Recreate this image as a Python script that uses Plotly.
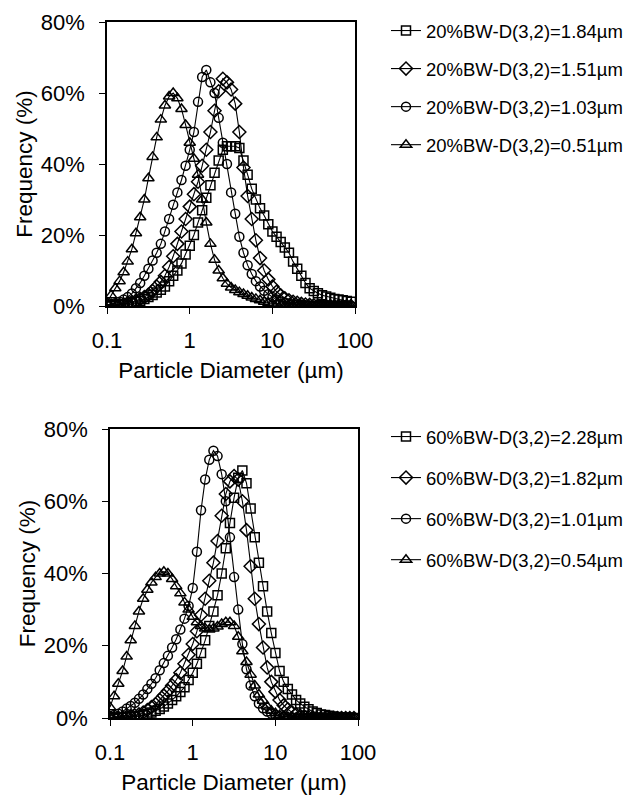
import plotly.graph_objects as go

# Particle size classes (um)
X = [0.1, 0.112, 0.126, 0.142, 0.159, 0.178, 0.2, 0.224, 0.252, 0.283,
     0.317, 0.356, 0.399, 0.448, 0.502, 0.564, 0.632, 0.71, 0.796, 0.893,
     1.002, 1.125, 1.262, 1.416, 1.589, 1.783, 2.0, 2.244, 2.518, 2.825,
     3.17, 3.557, 3.991, 4.477, 5.024, 5.637, 6.325, 7.096, 7.962, 8.934,
     10.024, 11.247, 12.619, 14.159, 15.887, 17.825, 20.0, 22.44, 25.179, 28.251,
     31.698, 35.566, 39.905, 44.774, 50.238, 56.368, 63.246, 70.963, 79.621, 89.337]

# ---- 20% BW ----
top_names = ["20%BW-D(3,2)=1.84µm", "20%BW-D(3,2)=1.51µm",
             "20%BW-D(3,2)=1.03µm", "20%BW-D(3,2)=0.51µm"]
top_sq = [0, 0.1, 0.2, 0.3, 0.5, 0.7, 0.9, 1.2, 1.5, 2.0,
          2.5, 3.1, 3.8, 4.6, 5.5, 7.0, 8.5, 10.0, 12.0, 14.5,
          17.0, 20.0, 23.5, 27.0, 30.5, 34.0, 37.5, 41.0, 44.0, 45.0,
          45.0, 45.0, 44.5, 41.0, 37.0, 33.0, 30.0, 27.5, 25.5, 23.0,
          21.0, 19.5, 18.0, 16.5, 15.0, 12.5, 10.5, 8.5, 6.5, 5.0,
          4.2, 3.6, 3.0, 2.7, 2.3, 2.0, 1.8, 1.6, 1.4, 1.2]
top_di = [0, 0.1, 0.2, 0.3, 0.5, 0.8, 1.1, 1.5, 2.0, 2.5,
          3.2, 4.2, 5.5, 6.8, 8.5, 11.0, 14.0, 17.5, 21.0, 24.5,
          28.0, 31.5, 35.0, 39.5, 44.0, 49.0, 55.0, 60.5, 64.0, 63.0,
          61.0, 57.0, 49.0, 39.0, 31.0, 24.5, 18.5, 13.5, 10.0, 7.5,
          5.5, 4.0, 3.0, 2.2, 1.6, 1.2, 0.9, 0.6, 0.4, 0.3,
          0.2, 0.1, 0.1, 0, 0, 0, 0, 0, 0, 0]
top_ci = [0.3, 0.5, 0.8, 1.2, 1.8, 2.5, 3.5, 5.0, 6.5, 8.5,
          10.5, 12.8, 15.0, 17.5, 21.0, 24.5, 28.5, 32.0, 35.5, 39.5,
          44.0, 49.0, 57.5, 64.5, 66.5, 63.0, 60.0, 53.0, 46.0, 40.0,
          32.0, 26.0, 19.5, 15.0, 11.5, 9.0, 7.0, 5.5, 4.3, 3.3,
          2.5, 1.8, 1.3, 1.0, 0.7, 0.5, 0.4, 0.3, 0.2, 0.1,
          0, 0, 0, 0, 0, 0, 0, 0, 0, 0]
top_tr = [1.0, 3.0, 5.0, 7.0, 9.5, 12.5, 16.0, 20.5, 25.0, 30.0,
          36.0, 42.0, 47.5, 52.5, 56.5, 59.0, 60.0, 58.5, 55.5, 51.0,
          46.0, 41.5, 37.0, 30.0, 23.5, 17.5, 13.0, 10.0, 7.8, 6.3,
          5.2, 4.5, 3.9, 3.4, 2.9, 2.4, 2.0, 1.6, 1.2, 0.9,
          0.7, 0.5, 0.3, 0.2, 0.1, 0, 0, 0, 0, 0,
          0, 0, 0, 0, 0, 0, 0, 0, 0, 0]

# ---- 60% BW ----
bot_names = ["60%BW-D(3,2)=2.28µm", "60%BW-D(3,2)=1.82µm",
             "60%BW-D(3,2)=1.01µm", "60%BW-D(3,2)=0.54µm"]
bot_sq = [0, 0, 0, 0.1, 0.2, 0.3, 0.4, 0.5, 0.8, 1.1,
          1.5, 2.0, 2.5, 3.2, 4.0, 5.0, 6.0, 7.2, 8.5, 10.5,
          12.5, 15.0, 18.0, 21.5, 25.5, 29.5, 34.0, 40.0, 47.0, 54.0,
          61.0, 66.5, 68.5, 65.0, 58.0, 50.0, 43.0, 36.5, 29.5, 23.5,
          18.0, 13.0, 10.0, 8.0, 6.5, 5.0, 4.0, 3.1, 2.4, 1.8,
          1.4, 1.0, 0.8, 0.6, 0.4, 0.3, 0.2, 0.1, 0.1, 0]
bot_di = [0, 0, 0.1, 0.2, 0.3, 0.5, 0.7, 1.0, 1.5, 2.2,
          3.0, 3.8, 5.0, 6.2, 7.5, 9.0, 10.5, 12.5, 15.0, 17.5,
          20.5, 24.0, 28.5, 33.0, 38.0, 43.0, 49.0, 56.0, 62.0, 65.5,
          67.0, 66.0, 60.0, 52.0, 42.0, 33.0, 26.0, 19.5, 14.0, 10.0,
          7.3, 5.0, 3.5, 2.4, 1.6, 1.0, 0.6, 0.4, 0.2, 0.1,
          0, 0, 0, 0, 0, 0, 0, 0, 0, 0]
bot_ci = [0.5, 0.8, 1.2, 1.8, 2.6, 3.3, 4.2, 5.3, 6.5, 8.0,
          9.5, 11.0, 13.2, 15.2, 17.2, 19.5, 21.8, 24.5, 27.5, 31.0,
          36.0, 46.0, 57.5, 66.0, 71.5, 74.0, 72.5, 67.5, 60.0, 50.0,
          39.0, 30.0, 20.5, 13.5, 9.0, 6.0, 4.0, 2.7, 1.8, 1.2,
          0.8, 0.5, 0.3, 0.2, 0.1, 0, 0, 0, 0, 0,
          0, 0, 0, 0, 0, 0, 0, 0, 0, 0]
bot_tr = [3.0, 6.0, 9.5, 13.0, 17.0, 21.5, 25.5, 29.5, 33.0, 35.5,
          37.5, 39.0, 40.0, 40.5, 40.0, 38.5, 36.5, 34.5, 32.0, 30.0,
          28.0, 26.5, 25.5, 24.8, 24.5, 24.8, 25.3, 26.0, 26.5, 26.5,
          25.5, 22.5, 18.5, 15.5, 12.0, 9.0, 6.5, 4.8, 3.2, 2.0,
          1.3, 0.8, 0.5, 0.3, 0.2, 0.1, 0, 0, 0, 0,
          0, 0, 0, 0, 0, 0, 0, 0, 0, 0]

symbols = ["square-open", "diamond-open", "circle-open", "triangle-up-open"]
sizes = [9, 10, 9, 10]

FONT = "Liberation Sans, Arial, sans-serif"
fig = go.Figure()

for k, (nm, ys) in enumerate(zip(top_names, [top_sq, top_di, top_ci, top_tr])):
    fig.add_trace(go.Scatter(
        x=X, y=ys, name=nm, mode="lines+markers", xaxis="x", yaxis="y",
        legend="legend", legendgroup="t%d" % k,
        line=dict(color="black", width=1.1),
        marker=dict(symbol=symbols[k], size=sizes[k], color="black",
                    line=dict(color="black", width=1.5))))

for k, (nm, ys) in enumerate(zip(bot_names, [bot_sq, bot_di, bot_ci, bot_tr])):
    fig.add_trace(go.Scatter(
        x=X, y=ys, name=nm, mode="lines+markers", xaxis="x2", yaxis="y2",
        legend="legend2", legendgroup="b%d" % k,
        line=dict(color="black", width=1.1),
        marker=dict(symbol=symbols[k], size=sizes[k], color="black",
                    line=dict(color="black", width=1.5))))

W, H = 631, 798

def xax(domain, anchor):
    return dict(domain=domain, anchor=anchor, type="log", range=[-1, 2],
                tickvals=[0.1, 1, 10, 100], ticktext=["0.1", "1", "10", "100"],
                showline=True, mirror=True, linecolor="black", linewidth=1.5,
                ticks="outside", ticklen=6, tickcolor="black", tickwidth=1.2,
                showgrid=False, zeroline=False, automargin=False,
                tickfont=dict(size=22, color="black", family=FONT),
                ticklabelstandoff=8,
                title=dict(text="Particle Diameter (µm)", standoff=10,
                           font=dict(size=22.5, color="black", family=FONT)))

def yax(domain, anchor):
    return dict(domain=domain, anchor=anchor, range=[0, 80], dtick=20,
                ticksuffix="%",
                showline=True, mirror=True, linecolor="black", linewidth=1.5,
                ticks="outside", ticklen=6, tickcolor="black", tickwidth=1.2,
                showgrid=False, zeroline=False, automargin=False,
                tickfont=dict(size=22, color="black", family=FONT),
                ticklabelstandoff=10,
                title=dict(text="Frequency (%)", standoff=2,
                           font=dict(size=22.5, color="black", family=FONT)))

fig.update_layout(
    width=W, height=H,
    margin=dict(l=0, r=0, t=0, b=0),
    paper_bgcolor="white", plot_bgcolor="white",
    font=dict(family=FONT, color="black"),
    showlegend=True,
    xaxis=xax([107 / W, 355 / W], "y"),
    yaxis=yax([1 - 306 / H, 1 - 22 / H], "x"),
    xaxis2=xax([110 / W, 358 / W], "y2"),
    yaxis2=yax([1 - 718 / H, 1 - 429 / H], "x2"),
    legend=dict(x=386 / W, y=1 - 12 / H, xanchor="left", yanchor="top",
                font=dict(size=18.5, color="black", family=FONT),
                tracegroupgap=11, bgcolor="rgba(0,0,0,0)", borderwidth=0),
    legend2=dict(x=386 / W, y=1 - 418 / H, xanchor="left", yanchor="top",
                 font=dict(size=18.5, color="black", family=FONT),
                 tracegroupgap=14, bgcolor="rgba(0,0,0,0)", borderwidth=0),
)

fig.write_html("out.html")
